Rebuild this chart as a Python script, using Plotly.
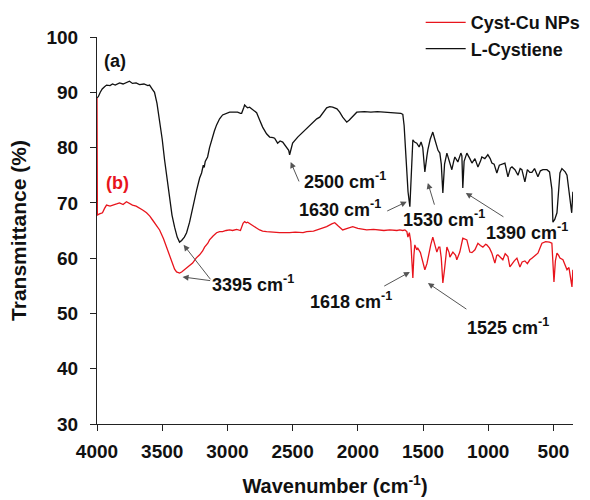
import plotly.graph_objects as go

# L-Cystiene (a), black
cys_wn = [4000, 3990, 3975, 3960, 3942, 3927, 3900, 3881, 3860, 3827, 3800, 3774, 3751, 3728, 3700, 3674, 3640,
          3610, 3597, 3574, 3559, 3540, 3520, 3500, 3482, 3462, 3444, 3425, 3405, 3385, 3367, 3351, 3330, 3313,
          3290, 3275, 3255, 3236, 3213, 3198, 3185, 3178, 3170, 3152, 3137, 3121, 3100, 3083, 3060, 3037, 3010,
          2983, 2950, 2922, 2900, 2891, 2875, 2868, 2855, 2845, 2830, 2807, 2776, 2753, 2730, 2700, 2676, 2650,
          2638, 2615, 2596, 2576, 2560, 2546, 2530, 2523, 2512, 2500, 2461, 2430, 2407, 2380, 2354, 2315, 2292,
          2260, 2239, 2215, 2193, 2160, 2139, 2116, 2085, 2065, 2047, 2025, 2008, 1950, 1900, 1850, 1800, 1755,
          1700, 1670, 1655, 1645, 1630, 1615, 1601, 1590, 1578, 1565, 1548, 1530, 1515, 1502, 1486, 1470, 1463,
          1445, 1425, 1410, 1402, 1385, 1371, 1360, 1348, 1335, 1317, 1295, 1279, 1265, 1256, 1233, 1210, 1202,
          1195, 1185, 1164, 1141, 1125, 1102, 1079, 1060, 1049, 1026, 1003, 985, 972, 955, 934, 915, 888, 872,
          849, 830, 818, 795, 772, 755, 742, 719, 700, 681, 665, 645, 619, 600, 581, 550, 530, 512, 504, 490,
          473, 460, 450, 435, 427, 410, 396, 374, 360, 351]
cys_t = [89.0, 89.2, 90.0, 90.6, 91.0, 91.3, 91.2, 91.5, 91.3, 91.7, 91.5, 91.8, 92.0, 91.6, 91.7, 91.4, 91.5,
         91.2, 91.3, 90.5, 90.0, 88.0, 85.0, 81.5, 77.8, 74.0, 70.5, 67.8, 65.6, 63.8, 62.9, 63.2, 63.8, 64.6,
         66.5, 68.2, 70.5, 72.3, 74.5, 75.4, 76.8, 76.4, 77.5, 78.3, 80.0, 81.4, 83.0, 84.1, 85.2, 85.9, 86.1,
         86.4, 86.4, 86.4, 86.2, 86.2, 87.2, 87.7, 87.4, 87.2, 87.3, 86.8, 86.3, 85.0, 83.7, 82.5, 81.9, 81.8,
         81.7, 80.8, 81.2, 81.0, 80.5, 80.1, 79.5, 78.7, 80.0, 80.8, 81.9, 82.6, 83.2, 83.8, 84.4, 85.2, 85.5,
         86.5, 87.2, 87.4, 87.3, 87.0, 86.4, 85.5, 84.6, 85.0, 85.5, 86.0, 86.4, 86.5, 86.4, 86.5, 86.4, 86.4,
         86.3, 86.2, 86.0, 84.0, 78.0, 72.0, 69.3, 76.0, 81.4, 81.0, 80.8, 80.1, 81.0, 80.0, 75.6, 78.5, 79.6,
         81.5, 82.8, 81.5, 80.8, 79.5, 79.0, 77.0, 71.8, 77.0, 79.0, 77.5, 76.0, 77.5, 78.3, 77.4, 79.0, 78.5,
         72.7, 77.5, 79.0, 78.0, 77.2, 78.0, 76.5, 77.5, 78.3, 78.0, 78.7, 78.0, 77.2, 77.0, 75.4, 76.8, 77.0, 77.2,
         74.7, 76.3, 76.5, 76.0, 75.0, 76.2, 76.0, 73.8, 76.0, 75.5, 75.5, 76.2, 74.7, 75.8, 76.0, 76.0, 75.6,
         72.5, 66.5, 67.0, 68.2, 73.0, 75.4, 76.2, 76.0, 75.6, 75.0, 71.1, 68.2, 72.0]

# Cyst-Cu NPs (b), red
cu_wn = [4000, 3997, 3981, 3958, 3942, 3927, 3900, 3881, 3850, 3827, 3800, 3774, 3750, 3728, 3700, 3674, 3650,
         3620, 3595, 3574, 3545, 3520, 3490, 3467, 3445, 3428, 3405, 3390, 3367, 3351, 3330, 3313, 3290, 3267,
         3240, 3213, 3190, 3175, 3150, 3137, 3110, 3083, 3060, 3037, 3010, 2983, 2960, 2929, 2900, 2891, 2880,
         2868, 2855, 2845, 2830, 2807, 2780, 2753, 2730, 2699, 2650, 2600, 2523, 2480, 2420, 2392, 2340, 2315,
         2280, 2239, 2200, 2177, 2150, 2116, 2080, 2039, 2000, 1932, 1880, 1800, 1755, 1700, 1678, 1655, 1639,
         1624, 1616, 1605, 1594, 1586, 1578, 1570, 1563, 1548, 1540, 1520, 1509, 1500, 1486, 1470, 1463, 1440,
         1425, 1410, 1394, 1380, 1371, 1360, 1348, 1335, 1317, 1300, 1294, 1271, 1250, 1241, 1225, 1218, 1195,
         1180, 1164, 1141, 1125, 1102, 1079, 1060, 1041, 1020, 1011, 990, 972, 949, 935, 926, 900, 888, 870,
         849, 834, 818, 800, 780, 757, 740, 719, 700, 681, 665, 640, 619, 600, 588, 560, 530, 512, 504, 496,
         485, 473, 460, 450, 427, 410, 396, 381, 366, 358, 351]
cu_t = [89.0, 67.8, 68.0, 68.2, 69.0, 69.6, 69.4, 69.6, 69.8, 70.0, 69.7, 70.2, 69.8, 69.6, 69.4, 69.1, 68.7,
        68.2, 67.6, 66.9, 66.0, 65.1, 63.5, 62.0, 60.5, 59.1, 58.0, 57.5, 57.3, 57.5, 57.9, 58.2, 58.7, 59.1,
        60.0, 60.6, 61.3, 62.0, 62.7, 63.3, 64.0, 64.6, 64.8, 64.8, 65.0, 65.1, 65.0, 65.2, 65.0, 65.5, 66.3,
        66.6, 66.4, 66.5, 66.3, 66.0, 65.5, 65.1, 64.9, 64.8, 64.7, 64.6, 64.6, 64.7, 64.6, 64.8, 64.9, 65.1,
        65.4, 65.7, 66.2, 66.4, 65.8, 65.1, 65.4, 65.7, 65.4, 65.1, 65.2, 65.0, 65.1, 65.0, 65.1, 65.0, 65.1,
        64.8, 63.8, 64.6, 63.0, 58.0, 56.4, 60.5, 62.4, 61.5, 61.8, 61.0, 60.0, 59.5, 57.9, 59.0, 60.0, 62.5,
        63.8, 62.5, 61.1, 62.0, 62.0, 60.0, 55.5, 58.0, 62.0, 61.0, 60.2, 61.1, 60.5, 59.7, 61.0, 61.1, 63.6,
        63.4, 63.3, 61.1, 61.0, 61.5, 62.7, 62.3, 62.0, 62.5, 62.4, 61.8, 60.9, 59.1, 60.5, 60.6, 60.0, 59.7, 60.8,
        60.3, 58.4, 59.0, 59.5, 60.0, 58.4, 59.3, 59.5, 59.0, 59.7, 60.0, 60.5, 60.9, 62.0, 62.7, 63.0, 62.9,
        62.7, 60.0, 55.7, 59.5, 60.9, 60.5, 60.0, 59.7, 58.5, 57.9, 58.3, 56.0, 54.8, 57.9]

x_ticks = [4000, 3500, 3000, 2500, 2000, 1500, 1000, 500]
y_ticks = [30, 40, 50, 60, 70, 80, 90, 100]

# peak labels: (text, label_x, label_y)
peak_labels = [("2500 cm<sup>-1</sup>", 2100, 74.1),
               ("1630 cm<sup>-1</sup>", 2139, 68.9),
               ("1530 cm<sup>-1</sup>", 1339, 67.1),
               ("1390 cm<sup>-1</sup>", 703, 64.9),
               ("3395 cm<sup>-1</sup>", 2805, 55.5),
               ("1618 cm<sup>-1</sup>", 2054, 52.4),
               ("1525 cm<sup>-1</sup>", 849, 47.7)]
# arrows: (tail_x, tail_y, tip_x, tip_y)
peak_arrows = [(2446, 73.6, 2515, 77.4),
               (1786, 68.4, 1625, 70.2),
               (1409, 69.4, 1463, 73.6),
               (872, 67.3, 1172, 71.8),
               (3121, 55.9, 3336, 62.4),
               (3121, 55.9, 3344, 56.6),
               (1809, 54.8, 1601, 57.5),
               (1156, 50.6, 1463, 55.5)]

FONT = "Arial, 'Liberation Sans', sans-serif"

fig = go.Figure()
fig.add_trace(go.Scatter(x=cu_wn, y=cu_t, mode="lines", name="Cyst-Cu NPs",
                         line=dict(color="#e8141c", width=1.3)))
fig.add_trace(go.Scatter(x=cys_wn, y=cys_t, mode="lines", name="L-Cystiene",
                         line=dict(color="#111111", width=1.3)))

for txt, lx, ly in peak_labels:
    fig.add_annotation(x=lx, y=ly, text=txt, showarrow=False,
                       font=dict(family=FONT, size=18, color="#111", weight="bold"))
for tx, ty, hx, hy in peak_arrows:
    fig.add_annotation(x=hx, y=hy, ax=tx, ay=ty, xref="x", yref="y", axref="x", ayref="y",
                       text="", showarrow=True, arrowhead=2, arrowsize=1.2, arrowwidth=1,
                       arrowcolor="#555")

fig.add_annotation(x=3960, y=95.6, text="(a)", showarrow=False, xanchor="left",
                   font=dict(family=FONT, size=18, color="#111", weight="bold"))
fig.add_annotation(x=3950, y=73.6, text="(b)", showarrow=False, xanchor="left",
                   font=dict(family=FONT, size=18, color="#e8141c", weight="bold"))

fig.update_layout(
    width=590, height=500,
    margin=dict(l=97, r=17, t=37, b=76, autoexpand=False),
    plot_bgcolor="white", paper_bgcolor="white",
    font=dict(family=FONT, size=18, color="#111"),
    showlegend=True,
    legend=dict(x=0.68, y=1.085, xanchor="left", yanchor="top",
                font=dict(family=FONT, size=18, color="#111", weight="bold"),
                bgcolor="rgba(0,0,0,0)", tracegroupgap=0, itemwidth=40),
    xaxis=dict(range=[4000, 350], tickvals=x_ticks, ticktext=[str(v) for v in x_ticks],
               showgrid=False, zeroline=False, showline=True, linecolor="#222", linewidth=1.2,
               ticks="outside", ticklen=6, tickcolor="#222", ticklabelstandoff=4,
               layer="below traces",
               tickfont=dict(family=FONT, size=19, color="#111", weight="bold"),
               title=dict(text="Wavenumber (cm<sup>-1</sup>)", standoff=18,
                          font=dict(family=FONT, size=20, color="#111", weight="bold"))),
    yaxis=dict(range=[30, 100], tickvals=y_ticks,
               showgrid=False, zeroline=False, showline=True, linecolor="#222", linewidth=1.2,
               ticks="outside", ticklen=6, tickcolor="#222", ticklabelstandoff=8,
               layer="below traces",
               tickfont=dict(family=FONT, size=19, color="#111", weight="bold"),
               title=dict(text="Transmittance (%)", standoff=14,
                          font=dict(family=FONT, size=21, color="#111", weight="bold"))),
)

fig.write_html("out.html")
